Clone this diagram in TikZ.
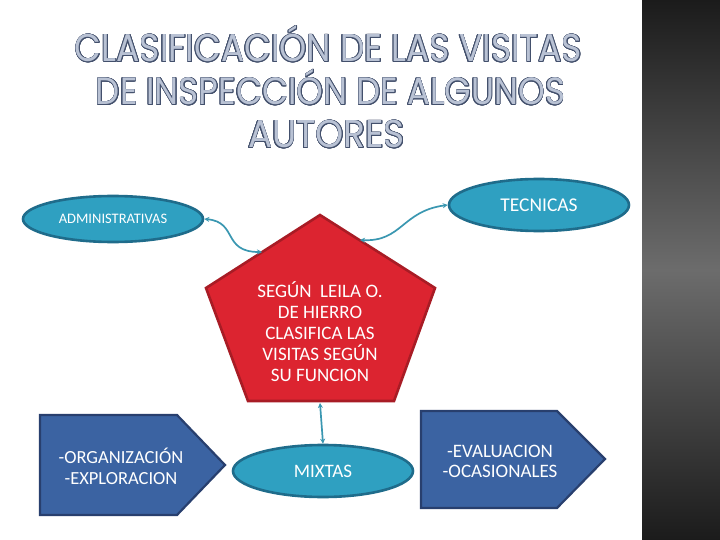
\documentclass[tikz,border=0pt]{standalone}
\usepackage{fontspec}
\setmainfont{Carlito}
\newfontfamily\titlefont{Poppins}
\usepackage{contour}
\contourlength{0.8pt}
\usetikzlibrary{shapes.geometric,arrows.meta}
\definecolor{ellfill}{HTML}{2FA0C1}
\definecolor{elldraw}{HTML}{1F6C8B}
\definecolor{pentfill}{HTML}{DC2430}
\definecolor{pentdraw}{HTML}{A81C25}
\definecolor{platefill}{HTML}{3B63A2}
\definecolor{platedraw}{HTML}{283F6E}
\definecolor{linkcol}{HTML}{3A97B1}
\definecolor{titlefill}{HTML}{B9C2D4}
\definecolor{titleline}{HTML}{43506C}
\definecolor{bardark}{HTML}{1B1B1B}
\definecolor{barmid}{HTML}{6C6C6C}
\newcommand\ttlline[3]{\resizebox{#1}{#2}{\textcolor{titlefill}{\contour{titleline}{\vphantom{X}\smash{#3}}}}}
\begin{document}
\begin{tikzpicture}[x=1pt,y=-1pt,
  ell/.style={ellipse, fill=ellfill, draw=elldraw, line width=2.6pt, inner sep=0pt, text=white},
  plate/.style={fill=platefill, draw=platedraw, line width=2.2pt, line join=miter},
  pentshape/.style={fill=pentfill, draw=pentdraw, line width=2.6pt, line join=miter},
  link/.style={draw=linkcol, line width=1.7pt, {Stealth[length=5pt,width=5pt]}-{Stealth[length=5pt,width=5pt]}},
  ttl/.style={anchor=base, inner sep=0pt, font=\titlefont\fontsize{42}{42}\selectfont},
  wtxt/.style={text=white, align=center, inner sep=0pt}]
\useasboundingbox (0,0) rectangle (720,540);
\fill[white] (0,0) rectangle (720,540);
% dark side bar
\shade[top color=bardark, bottom color=bardark, middle color=barmid] (642,0) rectangle (720,540);
% title
\node[ttl] (t1) at (328.5,62) {\ttlline{507pt}{27pt}{CLASIFICACIÓN DE LAS VISITAS}};
\node[ttl] (t2) at (330.5,105) {\ttlline{469pt}{26.5pt}{DE INSPECCIÓN DE ALGUNOS}};
\node[ttl] (t3) at (326.5,148) {\ttlline{157pt}{27pt}{AUTORES}};
% central pentagon
\coordinate (pT) at (320,215);
\coordinate (pL) at (206,288);
\coordinate (pR) at (435,288);
\coordinate (pBL) at (248,401);
\coordinate (pBR) at (394,401);
\draw[pentshape] (pT) -- (pR) -- (pBR) -- (pBL) -- (pL) -- cycle;
\node[wtxt, font=\fontsize{19}{21}\selectfont] (pent) at (320,332) {SEGÚN\ \ LEILA O.\\DE HIERRO\\CLASIFICA LAS\\VISITAS SEGÚN\\SU FUNCION};
\coordinate (pEL) at (262,252);
\coordinate (pER) at (360,240);
\coordinate (pEB) at (320,403);
% ellipses
\node[ell, minimum width=180pt, minimum height=46pt, font=\fontsize{14.5}{14.5}\selectfont] (adm) at (113,219) {ADMINISTRATIVAS};
\node[ell, minimum width=180pt, minimum height=52pt, font=\fontsize{19.5}{19.5}\selectfont] (tec) at (539,205) {TECNICAS};
\node[ell, minimum width=180pt, minimum height=52pt, font=\fontsize{19}{19}\selectfont] (mix) at (323,471) {MIXTAS};
% home plates
\draw[plate] (40,415) -- (177,415) -- (225,465) -- (177,515) -- (40,515) -- cycle;
\node[wtxt, font=\fontsize{18.5}{21}\selectfont] (org) at (121,466) {-ORGANIZACIÓN\\-EXPLORACION};
\draw[plate] (421,411) -- (557,411) -- (605,459) -- (557,508) -- (421,508) -- cycle;
\node[wtxt, font=\fontsize{19}{20}\selectfont] (eva) at (500,461) {-EVALUACION\\-OCASIONALES};
% connectors
\draw[link] (adm.east) .. controls (238,222) and (222,252) .. (pEL);
\draw[link] (pER) .. controls (402,242) and (402,211) .. (tec.west);
\draw[link] (pEB) -- (mix.north);
\end{tikzpicture}
\end{document}
